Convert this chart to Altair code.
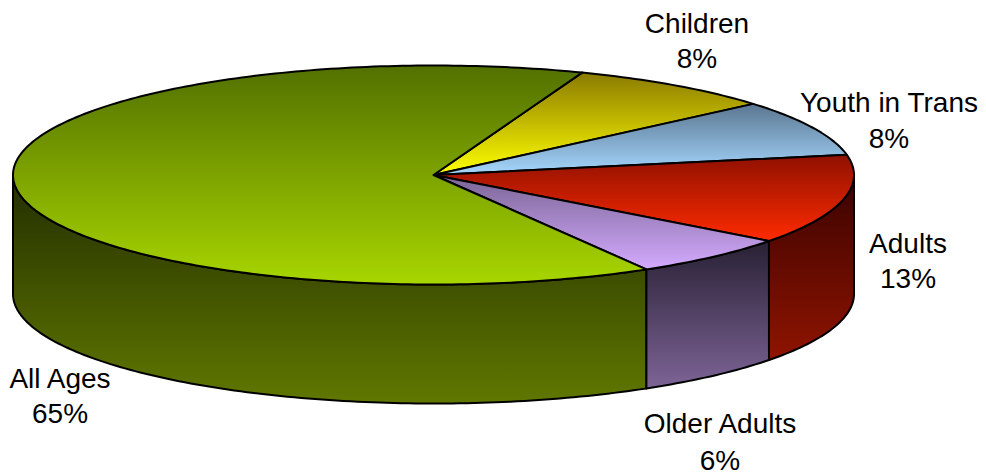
import math
import altair as alt

categories = ["Children", "Youth in Trans", "Adults", "Older Adults", "All Ages"]
percent_labels = ["8%", "8%", "13%", "6%", "65%"]
# slice shares (labels are the rounded figures)
shares = [8.0, 8.3, 13.25, 6.25, 64.2]

START = 69.3
CX, CY, RX, RY, DEPTH = 425.5, 167.0, 420.5, 109.5, 119.0
RATIO = RY / RX
D = DEPTH / RX

top_stops = {
    "Children": ("#8a7a00", "#ffff00"),
    "Youth in Trans": ("#5a7690", "#a6d8ff"),
    "Adults": ("#8f1000", "#ff2b00"),
    "Older Adults": ("#7a6595", "#d4aaff"),
    "All Ages": ("#527000", "#a8d600"),
}
side_stops = {
    "Adults": ("#3a0200", "#8f1400"),
    "Older Adults": ("#282034", "#7d6496"),
    "All Ages": ("#222e00", "#607800"),
}
label_pos = {
    "Children": (689, 17, 52),
    "Youth in Trans": (881, 96, 132),
    "Adults": (900, 237, 272),
    "Older Adults": (712, 417, 454),
    "All Ages": (52, 372, 407),
}


def pt(t, drop=0.0):
    a = math.radians(t)
    return [math.cos(a), math.sin(a) * RATIO - drop]


def arc(t0, t1, drop=0.0):
    n = max(2, int(abs(t1 - t0)) + 1)
    return [pt(t0 + (t1 - t0) * i / n, drop) for i in range(n + 1)]


def feature(ring):
    return {"type": "Feature", "properties": {},
            "geometry": {"type": "Polygon", "coordinates": [ring + [ring[0]]]}}


def grad(c0, c1):
    return alt.LinearGradient(gradient="linear", x1=0, y1=0, x2=0, y2=1,
                              stops=[alt.GradientStop(color=c0, offset=0),
                                     alt.GradientStop(color=c1, offset=1)])


def shape(ring, c0, c1):
    return alt.Chart(alt.Data(values=[feature(ring)], format=alt.DataFormat(type="json"))).mark_geoshape(
        fill=grad(c0, c1), stroke="black", strokeWidth=2, strokeJoin="round"
    ).project(type="identity", scale=RX, translate=[CX, CY], reflectY=True)


layers = []
spans = {}
t = START
for name, s in zip(categories, shares):
    t1 = t - s * 3.6
    spans[name] = (t, t1)
    t = t1

# side walls
for name, (lo, hi) in {
    "All Ages": (-180.0, spans["Older Adults"][1]),
    "Older Adults": spans["Older Adults"][::-1],
    "Adults": (spans["Adults"][1], 0.0),
}.items():
    ring = arc(lo, hi) + arc(hi, lo, D)
    layers.append(shape(ring, *side_stops[name]))

# top slices
for name in categories:
    a, b = spans[name]
    ring = [[0.0, 0.0]] + arc(a, b)
    layers.append(shape(ring, *top_stops[name]))

# labels
for name, pct in zip(categories, percent_labels):
    x, y1, y2 = label_pos[name]
    for txt, y in ((name, y1), (pct, y2)):
        layers.append(
            alt.Chart(alt.Data(values=[{"t": txt}])).mark_text(
                font="Liberation Sans", fontSize=28, color="black", align="center", baseline="middle"
            ).encode(x=alt.value(x), y=alt.value(y), text="t:N")
        )

chart = alt.layer(*layers).properties(
    width=970, height=467, padding=0, autosize=alt.AutoSizeParams(type="none"),
    background="white"
).configure_view(stroke=None)

chart.save("out.html", embed_options={"renderer": "svg", "actions": False})
